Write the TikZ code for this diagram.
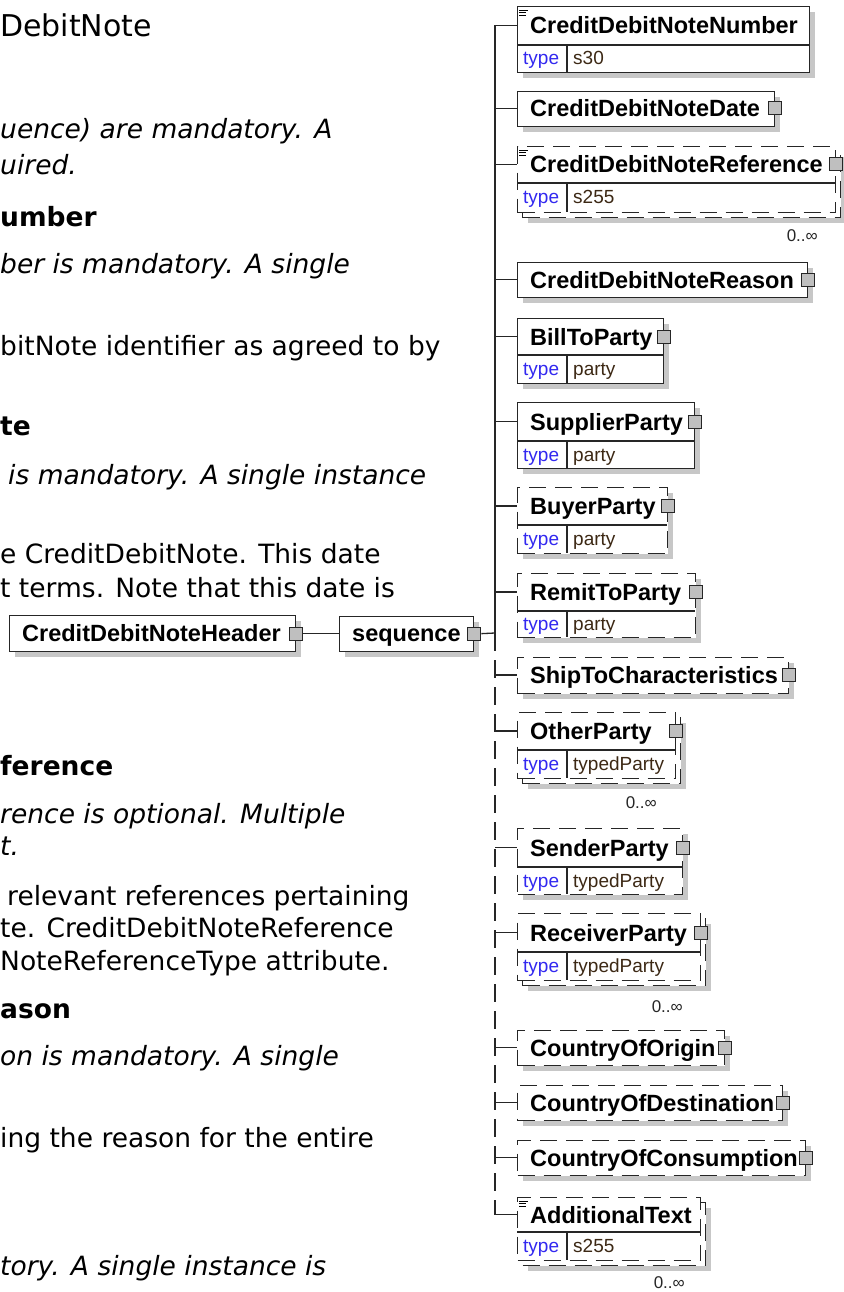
\documentclass[tikz,border=0pt]{standalone}
\usepackage{fontspec}
\setmainfont{DejaVu Sans}
\newfontfamily\diagfont{Liberation Sans}
\usetikzlibrary{shadows}

\definecolor{shadegray}{gray}{0.78}
\definecolor{typeblue}{RGB}{50,40,240}
\definecolor{typebrown}{RGB}{60,40,20}

\tikzset{
  elemframe/.style={draw=black!85, fill=white, line width=1.3pt, inner sep=0pt, anchor=north west},
  boxshadow/.style={drop shadow={shadow xshift=5pt, shadow yshift=-5pt, fill=shadegray, opacity=1}},
  optframe/.style={dash pattern=on 17pt off 9pt},
  innerline/.style={draw=black!85, line width=1.3pt},
  branchline/.style={draw=black!85, line width=1.3pt},
  elemtext/.style={font=\diagfont\bfseries\fontsize{23.5}{26}\selectfont, inner sep=0pt, anchor=base west},
  typelbl/.style={font=\diagfont\fontsize{19}{21}\selectfont, text=typeblue, inner sep=0pt, anchor=base west},
  typeval/.style={font=\diagfont\fontsize{19}{21}\selectfont, text=typebrown, inner sep=0pt, anchor=base west},
  expander/.style={draw=black!85, fill=black!25, line width=1pt, minimum width=13pt, minimum height=13pt, inner sep=0pt},
  occurs/.style={font=\diagfont\fontsize{17}{19}\selectfont, text=black!85, inner sep=0pt, anchor=base east},
  doctext/.style={font=\fontsize{26.5}{32}\selectfont, inner sep=0pt, anchor=base west},
  docitalic/.style={doctext, font=\fontsize{26.5}{32}\selectfont\itshape},
  docbold/.style={doctext, font=\fontsize{26.5}{32}\selectfont\bfseries}
}

% element box with one row
\newcommand{\plainelem}[6][]{%
  \pgfmathsetmacro{\elw}{#5-517}%
  \pgfmathsetmacro{\elh}{#4-#3}%
  \pgfmathsetmacro{\elc}{(#3+#4)/2}%
  \node[elemframe,#1,minimum width=\elw pt,minimum height=\elh pt] (#2) at (517,#3) {};
  \node[elemtext] (#2-nm) at (530,\elc+8.5) {#6};
  \coordinate (#2-t) at (495,\elc);
  \draw[branchline] (#2-t) -- (#2-t -| #2.west);
}

% element box with a type row
\newcommand{\typedelem}[8][]{%
  \pgfmathsetmacro{\elw}{#6-517}%
  \pgfmathsetmacro{\elh}{#5-#3}%
  \pgfmathsetmacro{\elc}{(#3+#4)/2}%
  \pgfmathsetmacro{\elty}{(#4+#5)/2+6.5}%
  \node[elemframe,#1,minimum width=\elw pt,minimum height=\elh pt] (#2) at (517,#3) {};
  \draw[innerline] (517,#4) -- (#6,#4) (567,#4) -- (567,#5);
  \node[elemtext] (#2-nm) at (530,\elc+8.5) {#7};
  \node[typelbl] (#2-ty) at (523,\elty) {type};
  \node[typeval] (#2-tv) at (573,\elty) {#8};
  \coordinate (#2-t) at (495,\elc);
  \draw[branchline] (#2-t) -- (#2-t -| #2.west);
}

% second frame behind a repeated element
\newcommand{\backbox}[5][]{%
  \pgfmathsetmacro{\elw}{#5-517}%
  \pgfmathsetmacro{\elh}{#4-#3}%
  \node[elemframe,#1,boxshadow,minimum width=\elw pt,minimum height=\elh pt] (#2-bk) at (522,#3+5) {};
}

\newcommand{\addsquare}[1]{\node[expander] (#1-sq) at (#1.east |- #1-t) {};}

\newcommand{\docicon}[1]{%
  \draw[line width=0.8pt] ([shift={(2,4)}]#1.north west) -- ++(9,0)
    ([shift={(2,6.5)}]#1.north west) -- ++(7,0)
    ([shift={(2,9)}]#1.north west) -- ++(7,0);
}

\begin{document}
\begin{tikzpicture}[x=1pt, y=-1pt]
\useasboundingbox (0,0) rectangle (843,1292);

% text of the page behind the diagram
\node[doctext, font=\fontsize{30}{36}\selectfont] (title) at (0,37) {DebitNote};
\node[docitalic] (l1) at (0,139) {uence) are mandatory. A};
\node[docitalic] (l2) at (0,175) {uired.};
\node[docbold] (l3) at (0,226) {umber};
\node[docitalic] (l4) at (0,273) {ber is mandatory. A single};
\node[doctext] (l5) at (0,355) {bitNote identifier as agreed to by};
\node[docbold] (l6) at (0,435) {te};
\node[docitalic] (l7) at (8,484) {is mandatory. A single instance};
\node[doctext] (l8) at (0,563) {e CreditDebitNote. This date};
\node[doctext] (l9) at (0,597) {t terms. Note that this date is};
\node[docbold] (l10) at (0,775) {ference};
\node[docitalic] (l11) at (0,823) {rence is optional. Multiple};
\node[docitalic] (l12) at (0,855) {t.};
\node[doctext] (l13) at (7,905) {relevant references pertaining};
\node[doctext] (l14) at (0,937) {te. CreditDebitNoteReference};
\node[doctext] (l15) at (0,970) {NoteReferenceType attribute.};
\node[docbold] (l16) at (0,1018) {ason};
\node[docitalic] (l17) at (0,1065) {on is mandatory. A single};
\node[doctext] (l18) at (0,1147) {ing the reason for the entire};
\node[docitalic] (l19) at (0,1275) {tory. A single instance is};

% header and compositor
\node[elemframe, boxshadow, minimum width=286pt, minimum height=36pt] (header) at (9,615) {};
\node[elemtext] (header-nm) at (22,641.5) {CreditDebitNoteHeader};
\node[expander] (header-sq) at (header.east) {};
\node[elemframe, boxshadow, minimum width=134pt, minimum height=35pt] (seq) at (339,616) {};
\node[elemtext] (seq-nm) at (352,641.5) {sequence};
\node[expander] (seq-sq) at (seq.east |- header.east) {};
\coordinate (seqjoin) at (495,633);
\draw[branchline] (header-sq.east) -- (header-sq.east -| seq.west);
\draw[branchline] (seq-sq.east) -- (seqjoin);

% children
\typedelem[boxshadow]{cdnn}{6}{45}{72}{809}{CreditDebitNoteNumber}{s30}
\docicon{cdnn}
\plainelem[boxshadow]{cdnd}{91}{126}{774}{CreditDebitNoteDate}
\addsquare{cdnd}
\backbox[optframe]{cdnref}{146}{212}{835}
\typedelem[optframe]{cdnref}{146}{183}{212}{835}{CreditDebitNoteReference}{s255}
\docicon{cdnref}
\addsquare{cdnref}
\node[occurs] (cdnref-oc) at (818,241) {0..∞};
\plainelem[boxshadow]{cdnrea}{262}{297}{807}{CreditDebitNoteReason}
\addsquare{cdnrea}
\typedelem[boxshadow]{bill}{318}{355}{383}{663}{BillToParty}{party}
\addsquare{bill}
\typedelem[boxshadow]{supp}{402}{441}{468}{694}{SupplierParty}{party}
\addsquare{supp}
\typedelem[optframe,boxshadow]{buyer}{487}{525}{553}{667}{BuyerParty}{party}
\addsquare{buyer}
\typedelem[optframe,boxshadow]{remit}{573}{611}{637}{695}{RemitToParty}{party}
\addsquare{remit}
\plainelem[optframe,boxshadow]{shipto}{657}{693}{788}{ShipToCharacteristics}
\addsquare{shipto}
\backbox[optframe]{other}{712}{778}{675}
\typedelem[optframe]{other}{712}{750}{778}{675}{OtherParty}{typedParty}
\addsquare{other}
\node[occurs] (other-oc) at (657,808) {0..∞};
\typedelem[optframe,boxshadow]{sender}{828}{867}{894}{682}{SenderParty}{typedParty}
\addsquare{sender}
\backbox[optframe]{recv}{913}{980}{700}
\typedelem[optframe]{recv}{913}{952}{980}{700}{ReceiverParty}{typedParty}
\addsquare{recv}
\node[occurs] (recv-oc) at (683,1012) {0..∞};
\plainelem[optframe,boxshadow]{origin}{1030}{1065}{724}{CountryOfOrigin}
\addsquare{origin}
\plainelem[optframe,boxshadow]{dest}{1085}{1120}{782}{CountryOfDestination}
\addsquare{dest}
\plainelem[optframe,boxshadow]{consum}{1140}{1175}{805}{CountryOfConsumption}
\addsquare{consum}
\backbox[optframe]{addtext}{1197}{1260}{700}
\typedelem[optframe]{addtext}{1197}{1232}{1260}{700}{AdditionalText}{s255}
\docicon{addtext}
\node[occurs] (addtext-oc) at (685,1288) {0..∞};

% trunk of the sequence
\draw[branchline] (cdnn-t) -- (seqjoin);
\draw[branchline, dash pattern=on 18pt off 9pt] (seqjoin) -- (addtext-t);
\end{tikzpicture}
\end{document}
